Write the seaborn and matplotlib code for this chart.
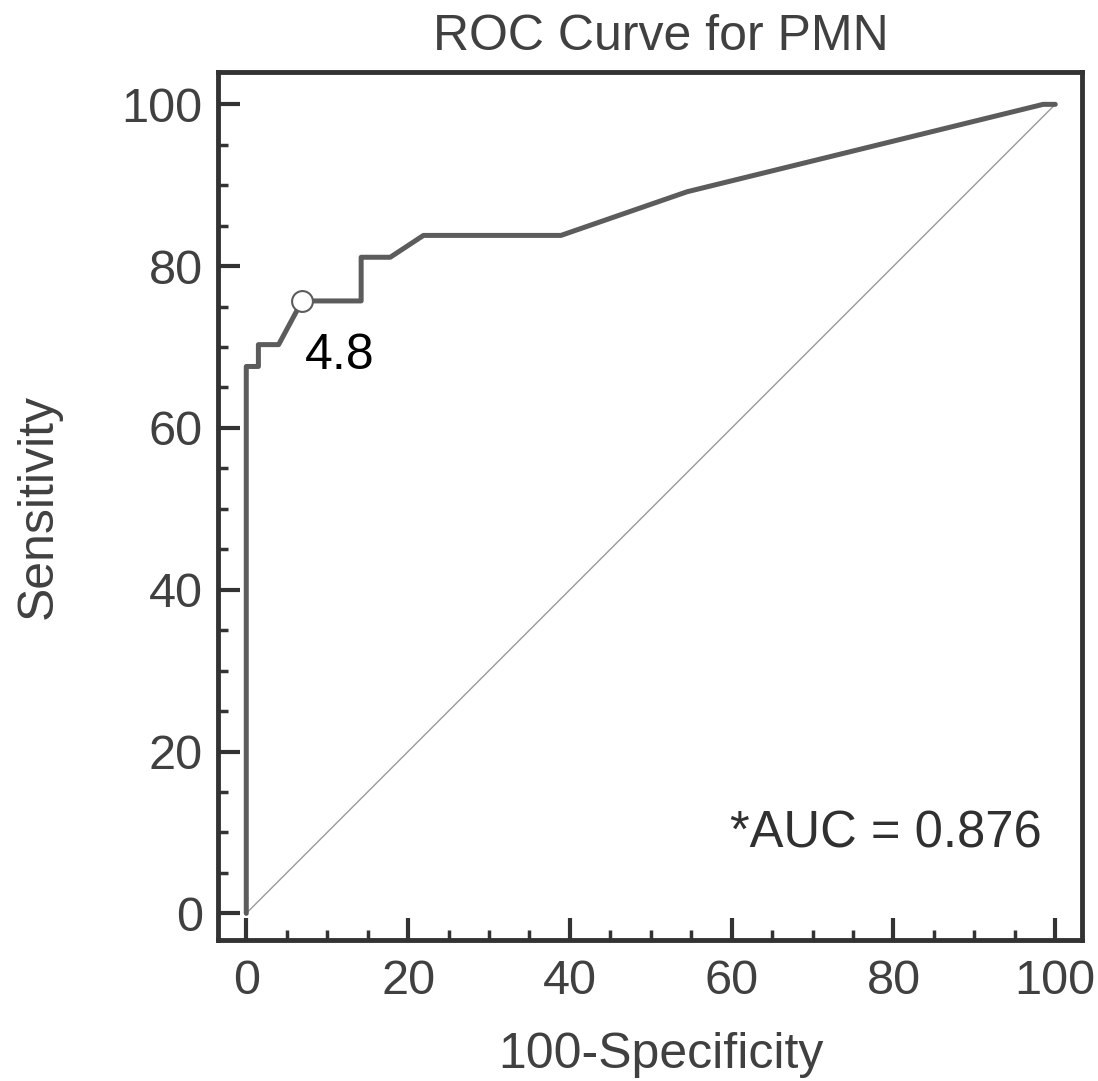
import matplotlib
matplotlib.use("Agg")
import matplotlib.pyplot as plt
import numpy as np
import pandas as pd
import seaborn as sns

# ROC curve points (100-Specificity, Sensitivity)
fpr = [0, 0, 1.5, 1.5, 4.0, 6.9, 14.2, 14.2, 17.8, 21.9, 38.9, 54.5, 98.5, 100]
tpr = [0, 67.6, 67.6, 70.3, 70.3, 75.7, 75.7, 81.1, 81.1, 83.8, 83.8, 89.2, 100, 100]
cut_x, cut_y, cut_label = 6.9, 75.7, "4.8"
auc_text = "*AUC = 0.876"
ticks = [0, 20, 40, 60, 80, 100]

sns.set_style("ticks")
plt.rcParams['font.family'] = ['Liberation Sans', 'DejaVu Sans']

df = pd.DataFrame({"fpr": fpr, "tpr": tpr})

fig = plt.figure(figsize=(10.98, 10.81), dpi=100)
ax = fig.add_axes([0.1985, 0.1304, 0.7869, 0.8030])

# reference diagonal
sns.lineplot(x=[0, 100], y=[0, 100], color="#9a9a9a", linewidth=1.0, ax=ax)
sns.lineplot(data=df, x="fpr", y="tpr", sort=False, estimator=None,
             color="#5c5c5c", linewidth=3.6, ax=ax)
ax.plot([cut_x], [cut_y], marker="o", markersize=15, markerfacecolor="white",
        markeredgecolor="#5c5c5c", markeredgewidth=1.5, zorder=5)
ax.text(cut_x + 0.3, cut_y - 4.0, cut_label, fontsize=36, color="black",
        ha="left", va="top")
ax.text(98.3, 8.2, auc_text, fontsize=36.5, color="#303030", ha="right", va="baseline")

ax.set_xlim(-3.5, 103.3)
ax.set_ylim(-3.3, 104.0)
ax.set_xticks(ticks)
ax.set_yticks(ticks)
ax.set_xticks(np.arange(0, 101, 5), minor=True)
ax.set_yticks(np.arange(0, 101, 5), minor=True)
ax.tick_params(which="major", direction="in", length=16, width=3, color="#333333",
               labelsize=35, labelcolor="#404040")
ax.tick_params(axis="x", which="major", pad=14)
ax.tick_params(axis="y", which="major", pad=11)
ax.tick_params(which="minor", direction="in", length=7.5, width=2.5, color="#333333")
for s in ax.spines.values():
    s.set_visible(True)
    s.set_linewidth(3.5)
    s.set_color("#333333")

ax.set_title("ROC Curve for PMN", fontsize=36, color="#404040", pad=16, x=0.513)
ax.set_xlabel("100-Specificity", fontsize=36, color="#404040", labelpad=20)
ax.xaxis.label.set_x(0.513)
ax.set_ylabel("Sensitivity", fontsize=36, color="#404040", labelpad=43)

fig.savefig("out.png", dpi=100)
